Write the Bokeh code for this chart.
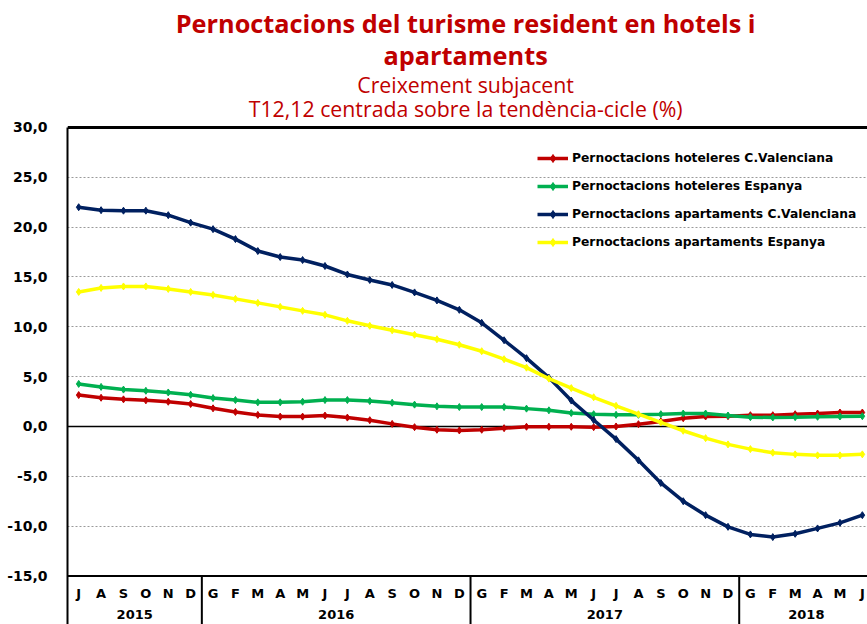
from bokeh.plotting import figure
from bokeh.models import (Range1d, FixedTicker, CustomJSTickFormatter, Legend,
                          LegendItem, ColumnDataSource, Span)
from bokeh.core.properties import value
from bokeh.embed import file_html
from bokeh.resources import INLINE

# ---------------- data ----------------
title_lines = ["Pernoctacions del turisme resident en hotels i", "apartaments"]
subtitle_lines = ["Creixement subjacent", "T12,12 centrada sobre la tendència-cicle (%)"]

months = ["J", "A", "S", "O", "N", "D",
          "G", "F", "M", "A", "M", "J", "J", "A", "S", "O", "N", "D",
          "G", "F", "M", "A", "M", "J", "J", "A", "S", "O", "N", "D",
          "G", "F", "M", "A", "M", "J"]
years = ["2015", "2016", "2017", "2018"]
months_per_year = [6, 12, 12, 6]

hot_cv = [3.15, 2.88, 2.72, 2.62, 2.48, 2.25,
          1.82, 1.46, 1.16, 0.99, 0.99, 1.09, 0.89, 0.63, 0.26, -0.07, -0.33, -0.40,
          -0.33, -0.17, -0.03, -0.03, -0.03, -0.07, 0.00, 0.23, 0.50, 0.83, 1.00, 1.03,
          1.13, 1.13, 1.23, 1.30, 1.40, 1.40]
hot_es = [4.27, 3.97, 3.70, 3.58, 3.41, 3.18,
          2.85, 2.65, 2.42, 2.42, 2.48, 2.65, 2.65, 2.55, 2.38, 2.19, 2.02, 1.95,
          1.95, 1.95, 1.79, 1.62, 1.35, 1.23, 1.17, 1.17, 1.23, 1.30, 1.30, 1.10,
          0.93, 0.90, 0.93, 0.97, 1.00, 1.03]
apt_cv = [22.0, 21.7, 21.65, 21.65, 21.2, 20.45,
          19.8, 18.8, 17.6, 17.0, 16.7, 16.1, 15.25, 14.7, 14.2, 13.45, 12.65, 11.7,
          10.4, 8.65, 6.85, 4.9, 2.6, 0.65, -1.27, -3.4, -5.67, -7.5, -8.9, -10.07,
          -10.83, -11.1, -10.77, -10.23, -9.67, -8.9]
apt_es = [13.5, 13.9, 14.05, 14.05, 13.8, 13.5,
          13.2, 12.8, 12.4, 12.0, 11.6, 11.2, 10.6, 10.1, 9.65, 9.2, 8.75, 8.2,
          7.55, 6.75, 5.9, 4.8, 3.85, 2.93, 2.07, 1.23, 0.4, -0.43, -1.17, -1.8,
          -2.27, -2.63, -2.8, -2.9, -2.9, -2.8]

series_names = ["Pernoctacions hoteleres C.Valenciana",
                "Pernoctacions hoteleres Espanya",
                "Pernoctacions apartaments C.Valenciana",
                "Pernoctacions apartaments Espanya"]
series_values = [hot_cv, hot_es, apt_cv, apt_es]
series_colors = ["#C00000", "#00B050", "#002060", "#FFFF00"]

y_ticks = [-15, -10, -5, 0, 5, 10, 15, 20, 25, 30]
grid_ticks = [-10, -5, 5, 10, 15, 20, 25]

# ---------------- layout constants ----------------
Y_TOP = 30
Y_AXIS_BOTTOM = -15
Y_BOTTOM = -19.87
Y_CANVAS_TOP = 42.74          # room above the plot area for the titles
MONTH_Y = -16.72
YEAR_Y = -18.86
TITLE_X = 17.28
TITLE_Y = [40.53, 37.32]
SUBTITLE_Y = [34.31, 31.91]
RED = "#C00000"

xs = list(range(len(months)))

p = figure(width=867, height=624, output_backend="svg", toolbar_location=None,
           x_range=Range1d(-0.5, 35.23), y_range=Range1d(Y_BOTTOM, Y_CANVAS_TOP),
           x_axis_location=None, min_border_left=67, min_border_right=0,
           min_border_bottom=0, min_border_top=0,
           background_fill_color="white", border_fill_color="white")
p.title = None
p.outline_line_color = None

# titles
p.text(x=[TITLE_X] * len(title_lines), y=TITLE_Y, text=title_lines,
       text_align="center", text_baseline="middle",
       text_font=value("Open Sans"), text_font_style="bold", text_font_size="25.3px",
       text_color=RED)
p.text(x=[TITLE_X] * len(subtitle_lines), y=SUBTITLE_Y, text=subtitle_lines,
       text_align="center", text_baseline="middle",
       text_font=value("Open Sans"), text_font_style="normal", text_font_size="21.3px",
       text_color=RED)

# y axis
yax = p.yaxis[0]
yax.bounds = (Y_BOTTOM, Y_TOP)
yax.ticker = FixedTicker(ticks=y_ticks)
yax.formatter = CustomJSTickFormatter(code="return tick.toFixed(1).replace('.', ',');")
yax.major_label_text_font = "DejaVu Sans"
yax.major_label_text_font_style = "bold"
yax.major_label_text_font_size = "14px"
yax.major_label_text_color = "black"
yax.axis_line_color = "black"
yax.axis_line_width = 2
yax.major_tick_line_color = None
yax.minor_tick_line_color = None
yax.major_label_standoff = 14

# grid
p.xgrid.visible = False
p.ygrid.ticker = FixedTicker(ticks=grid_ticks)
p.ygrid.grid_line_color = "#9A9A9A"
p.ygrid.grid_line_dash = "2 2"
p.ygrid.grid_line_width = 1

# frame lines
p.add_layout(Span(location=0, dimension="width", line_color="black", line_width=1.5, level="underlay"))
p.add_layout(Span(location=Y_TOP, dimension="width", line_color="black", line_width=3))
p.add_layout(Span(location=Y_AXIS_BOTTOM, dimension="width", line_color="black", line_width=2))

# year separators below the axis
bounds = []
acc = 0
for n in months_per_year[:-1]:
    acc += n
    bounds.append(acc - 0.5)
p.segment(x0=bounds, x1=bounds, y0=[Y_AXIS_BOTTOM] * len(bounds), y1=[Y_BOTTOM] * len(bounds),
          line_color="black", line_width=2)

# month and year labels
p.text(x=xs, y=[MONTH_Y] * len(xs), text=months, text_align="center", text_baseline="middle",
       text_font=value("DejaVu Sans"), text_font_style="bold", text_font_size="13px",
       text_color="black")
year_x = []
acc = 0
for n in months_per_year:
    year_x.append(acc + (n - 1) / 2)
    acc += n
p.text(x=year_x, y=[YEAR_Y] * len(years), text=years, text_align="center", text_baseline="middle",
       text_font=value("DejaVu Sans"), text_font_style="bold", text_font_size="13px",
       text_color="black")

# series
items = []
for name, vals, col in zip(series_names, series_values, series_colors):
    src = ColumnDataSource(dict(x=xs, y=vals))
    lr = p.line("x", "y", source=src, line_color=col, line_width=3.5)
    sr = p.scatter("x", "y", source=src, marker="diamond", size=7, fill_color=col, line_color=col)
    items.append(LegendItem(label=name, renderers=[lr, sr]))

legend = Legend(items=items, location=(470, 372), orientation="vertical",
                border_line_color=None, background_fill_alpha=0,
                label_text_font="DejaVu Sans", label_text_font_style="bold",
                label_text_font_size="12.3px", label_text_color="black",
                glyph_width=31, glyph_height=20, label_height=20, spacing=8,
                padding=0, margin=0, label_standoff=4)
p.add_layout(legend)

open("out.html", "w").write(file_html(p, INLINE))
